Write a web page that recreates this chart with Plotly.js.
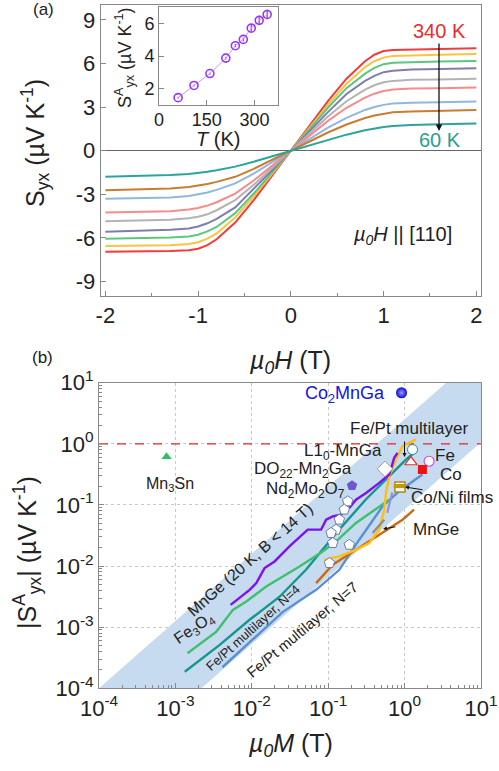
<!DOCTYPE html>
<html><head><meta charset="utf-8">
<script src="https://cdn.plot.ly/plotly-3.0.1.min.js"></script>
<style>html,body{margin:0;padding:0;background:#fff}#g{width:499px;height:771px}</style>
</head><body><div id="g"></div>
<script>
// ---------- Panel (a) data ----------
const fieldH = [-2,-1.6,-1.3,-1.1,-1.0,-0.9,-0.8,-0.6,-0.4,-0.2,0,0.2,0.4,0.6,0.8,0.9,1.0,1.1,1.3,1.6,2];
const S340 = [-6.95,-6.93,-6.9,-6.85,-6.75,-6.5,-6.1,-4.95,-3.4,-1.7,0,1.7,3.4,4.95,6.15,6.6,6.85,6.92,6.96,7.0,7.04];
const S305 = [-6.56,-6.54,-6.5,-6.42,-6.3,-6.05,-5.7,-4.6,-3.15,-1.58,0,1.58,3.15,4.6,5.75,6.15,6.4,6.52,6.57,6.6,6.65];
const S270 = [-6.06,-6.03,-5.98,-5.9,-5.78,-5.55,-5.25,-4.3,-2.95,-1.48,0,1.48,2.95,4.3,5.3,5.7,5.95,6.05,6.1,6.13,6.17];
const S240 = [-5.58,-5.5,-5.45,-5.35,-5.22,-5.0,-4.7,-3.9,-2.65,-1.33,0,1.33,2.65,3.9,4.8,5.15,5.4,5.5,5.58,5.62,5.67];
const S210 = [-4.85,-4.8,-4.75,-4.65,-4.55,-4.38,-4.1,-3.4,-2.35,-1.18,0,1.18,2.35,3.4,4.2,4.5,4.7,4.8,4.87,4.9,4.94];
const S180 = [-4.25,-4.22,-4.17,-4.05,-3.95,-3.78,-3.55,-2.95,-2.05,-1.03,0,1.03,2.05,2.95,3.65,3.92,4.1,4.2,4.27,4.3,4.34];
const S140 = [-3.31,-3.28,-3.22,-3.12,-3.02,-2.88,-2.7,-2.25,-1.58,-0.8,0,0.8,1.58,2.25,2.8,3.0,3.15,3.24,3.3,3.33,3.38];
const S100 = [-2.72,-2.66,-2.6,-2.5,-2.42,-2.3,-2.15,-1.8,-1.25,-0.63,0,0.63,1.25,1.8,2.25,2.42,2.55,2.64,2.7,2.74,2.79];
const S60  = [-1.8,-1.74,-1.68,-1.6,-1.54,-1.45,-1.35,-1.1,-0.76,-0.38,0,0.38,0.76,1.1,1.4,1.53,1.63,1.7,1.77,1.81,1.87];
const curveColors = ['#f23b3b','#f7c443','#5cc77e','#7e7eae','#b3b3b3','#f78b8b','#8fb7e2','#c97c32','#2ba59b'];

// inset
const insetT = [60,110,160,210,240,265,290,315,340];
const insetSA = [1.45,2.2,2.93,3.88,4.64,5.03,5.72,6.2,6.56];
const insetErr = [0.05,0.05,0.05,0.08,0.1,0.12,0.22,0.28,0.3];

// ---------- Panel (b) data ----------
const bandX = [1e-4, 3.5, 10, 10, 2.2e-3];
const bandY = [1e-4, 10, 10, 1.06, 1e-4];
const mnge20X = [0.00528,0.00935,0.01146,0.01469,0.01986,0.0311,0.054,0.0807,0.094,0.1146,0.147,0.189,0.231,0.313,0.466,0.63,0.731,0.807];
const mnge20Y = [0.00232,0.00408,0.00526,0.00927,0.01189,0.0209,0.0394,0.0394,0.0574,0.065,0.0693,0.0893,0.122,0.157,0.23,0.315,0.589,0.711];
const fe3o4X = [0.00144,0.00344,0.00566,0.00847,0.01545,0.0421,0.0847,0.1268,0.231,0.381,0.63];
const fe3o4Y = [0.000375,0.000847,0.00192,0.00263,0.00463,0.00984,0.01734,0.0253,0.0507,0.0785,0.122];
const fept4X = [0.001327,0.0038,0.00935,0.0231,0.0515,0.14,0.313,0.63,1.04,1.41];
const fept4Y = [0.000187,0.000513,0.00132,0.00315,0.00879,0.0398,0.124,0.294,0.553,0.757];
const fept7X = [0.00412,0.00935,0.0255,0.0695,0.14,0.255,0.514,0.849,1.71];
const fept7Y = [0.000221,0.000574,0.00178,0.00408,0.00869,0.027,0.0948,0.168,0.314];
const yellowX = [0.0891,0.14,0.231,0.345,0.466,0.542,0.57,0.63,0.769,0.94,1.41];
const yellowY = [0.01268,0.01436,0.01845,0.0238,0.0394,0.0838,0.157,0.294,0.553,0.914,1.18];
const mngeX = [0.0695,0.1146,0.231,0.514,0.94,1.33];
const mngeY = [0.00526,0.0105,0.0185,0.0348,0.0574,0.0838];
const lavX = [0.593,0.689]; const lavY = [0.0748,0.16];
const grayX = [0.381,0.542]; const grayY = [0.0348,0.0574];
const pentX = [0.18,0.1626,0.14,0.1268,0.109,0.1146,0.189,0.1038];
const pentY = [0.1146,0.0838,0.0574,0.0394,0.0348,0.0238,0.0223,0.0112];
const co2mngaX=[0.912], co2mngaY=[6.85];
const mn3snX=[7.66e-4], mn3snY=[0.612];
const ndmoX=[0.205], ndmoY=[0.207];
const do22X=[0.553], do22Y=[0.389];
const l10X=[1.27], l10Y=[0.805];
const feptTriX=[1.21], feptTriY=[0.504];
const feX=[2.09], feY=[0.519];
const coX=[1.71], coY=[0.379];
const coniX=[0.869], coniY=[0.197];

// ---------- build ----------
const W=499, Hh=771;
const px = v => v/W, py = v => 1 - v/Hh;
const FONT = 'Arial, "Liberation Sans", sans-serif';
const traces = [];
const series = [S340,S305,S270,S240,S210,S180,S140,S100,S60];
series.forEach((s,i)=>traces.push({x:fieldH,y:s,type:'scatter',mode:'lines',xaxis:'x',yaxis:'y',
  line:{color:curveColors[i],width:2},hoverinfo:'skip'}));
traces.push({x:insetT,y:insetSA,type:'scatter',mode:'lines+markers',xaxis:'x2',yaxis:'y2',
  line:{color:'#c49cf2',width:1},marker:{symbol:'circle-open',size:8,color:'#9933ff',line:{width:1.6,color:'#9933ff'}},
  error_y:{type:'data',array:insetErr,color:'#9933ff',thickness:1.2,width:0}});

// panel b
traces.push({x:bandX,y:bandY,type:'scatter',mode:'lines',fill:'toself',fillcolor:'#c6dbef',line:{width:0},xaxis:'x3',yaxis:'y3'});
traces.push({x:[1e-4,10],y:[1,1],type:'scatter',mode:'lines',line:{color:'#ee2222',width:1.3,dash:'dash'},xaxis:'x3',yaxis:'y3'});
const L = (x,y,c,w)=>traces.push({x:x,y:y,type:'scatter',mode:'lines',line:{color:c,width:w||2.4},xaxis:'x3',yaxis:'y3'});
L(fept7X,fept7Y,'#5b8fd3');
L(fept4X,fept4Y,'#16968c');
L(fe3o4X,fe3o4Y,'#3fbf70');
L(mngeX,mngeY,'#cc6a14');
L(yellowX,yellowY,'#ffbf10');
L(mnge20X,mnge20Y,'#7f10f0');
L(lavX,lavY,'#9b8fd6',2.2);
L(grayX,grayY,'#8c8c8c',2.2);
const M = (x,y,m)=>traces.push({x:x,y:y,type:'scatter',mode:'markers',marker:m,xaxis:'x3',yaxis:'y3'});
M(pentX,pentY,{symbol:'pentagon',size:11,color:'#ffffff',line:{color:'#6a7fa8',width:1}});
M(co2mngaX,co2mngaY,{symbol:'circle',size:11,color:'#0a0ad8',gradient:{type:'radial',color:'#9a9aff'},line:{width:0}});
M(mn3snX,mn3snY,{symbol:'triangle-up',size:9,color:'#2fbf6a',line:{width:0}});
M(ndmoX,ndmoY,{symbol:'pentagon',size:11,color:'#6a5acd',line:{width:0}});
M(do22X,do22Y,{symbol:'diamond',size:12,color:'#ffffff',line:{color:'#999',width:1}});
M(l10X,l10Y,{symbol:'circle',size:10,color:'#ffffff',line:{color:'#16968c',width:1}});
M(feptTriX,feptTriY,{symbol:'triangle-up',size:11,color:'#ffffff',line:{color:'#e03030',width:1.2}});
M(feX,feY,{symbol:'circle',size:10,color:'#ffffff',line:{color:'#dd44dd',width:1.2}});
M(coX,coY,{symbol:'square',size:9,color:'#ee1111',line:{width:0}});
M(coniX,coniY,{symbol:'square',size:10,color:'#ffffff',line:{color:'#b8860b',width:1.5}});
M(coniX,coniY.map(v=>v*1.04),{symbol:'line-ew',size:9,line:{color:'#c8960b',width:4}});

// minor ticks for log axis
const minorV=[];
for(let e=-4;e<1;e++) for(let k=2;k<10;k++) minorV.push(k*Math.pow(10,e));
const decV=[1e-4,1e-3,1e-2,1e-1,1,10];
const decT=['10<sup>-4</sup>','10<sup>-3</sup>','10<sup>-2</sup>','10<sup>-1</sup>','10<sup>0</sup>','10<sup>1</sup>'];

const ax = (o)=>Object.assign({showline:true,linecolor:'#888',linewidth:1,mirror:true,ticks:'inside',ticklen:5,tickcolor:'#888',
  showgrid:false,zeroline:false,tickfont:{family:FONT,size:22,color:'#222'}},o);

const layout = {
  width:W,height:Hh,margin:{l:0,r:0,t:0,b:0},showlegend:false,paper_bgcolor:'#fff',plot_bgcolor:'rgba(0,0,0,0)',
  font:{family:FONT,color:'#222'},
  xaxis:ax({domain:[px(100.7),px(481)],anchor:'y',range:[-2.05,2.05],tickvals:[-2,-1,0,1,2],ticktext:['-2','-1','0','1','2'],
    minor:{tickvals:[-1.5,-0.5,0.5,1.5],ticks:'inside',ticklen:3,tickcolor:'#888'}}),
  yaxis:ax({domain:[py(296),py(5.3)],anchor:'x',range:[-10,10],tickvals:[-9,-6,-3,0,3,6,9],ticktext:['-9','-6','-3','0','3','6','9'],
    zeroline:true,zerolinecolor:'#666',zerolinewidth:1}),
  xaxis2:ax({domain:[px(159),px(278.3)],anchor:'y2',range:[0,375],tickvals:[0,150,300],ticklabelstandoff:-2,tickfont:{family:FONT,size:18,color:'#222'}}),
  yaxis2:ax({domain:[py(105),py(7.3)],anchor:'x2',range:[1,7],tickvals:[2,4,6],tickfont:{family:FONT,size:18,color:'#222'}}),
  xaxis3:ax({domain:[px(99),px(481)],anchor:'y3',type:'log',range:[-4,1],tickmode:'array',tickvals:decV,ticktext:decT,
    showgrid:true,gridcolor:'#c8c8c8',griddash:'dot',gridwidth:1,
    minor:{tickmode:'array',tickvals:minorV,ticks:'inside',ticklen:3,tickcolor:'#888',showgrid:false}}),
  yaxis3:ax({domain:[py(688.3),py(382.7)],anchor:'x3',type:'log',range:[-4,1],tickmode:'array',tickvals:decV,ticktext:decT,
    showgrid:true,gridcolor:'#c8c8c8',griddash:'dot',gridwidth:1,
    minor:{tickmode:'array',tickvals:minorV,ticks:'inside',ticklen:3,tickcolor:'#888',showgrid:false}}),
  annotations:[]
};
const A = (x,y,text,o)=>layout.annotations.push(Object.assign({x:px(x),y:py(y),xref:'paper',yref:'paper',text:text,showarrow:false,
  font:{family:FONT,size:17,color:'#222'},xanchor:'center',yanchor:'middle'},o||{}));
const ARR = (x1,y1,x2,y2,o)=>layout.annotations.push(Object.assign({x:px(x2),y:py(y2),xref:'paper',yref:'paper',text:'',showarrow:true,
  ax:x1-x2,ay:y1-y2,arrowhead:2,arrowsize:1,arrowwidth:1.3,arrowcolor:'#111'},o||{}));

// panel a labels
A(43,10,'(a)',{font:{family:FONT,size:17,color:'#222'}});
A(35,143,'S<sub>yx</sub> (µV K<sup>-1</sup>)',{textangle:-90,font:{family:FONT,size:25,color:'#222'}});
A(290,362,'<i>µ<sub>0</sub>H</i> (T)',{font:{family:FONT,size:25,color:'#222'}});
A(439,31,'340 K',{font:{family:FONT,size:20,color:'#ee2a2a'}});
A(440,140,'60 K',{font:{family:FONT,size:20,color:'#2a9d95'}});
ARR(439,42,439,131);
A(402,235,'<i>µ<sub>0</sub>H</i> || [110]',{font:{family:FONT,size:20,color:'#222'}});
A(125,57,'S<sup>A</sup><sub>yx</sub> (µV K<sup>-1</sup>)',{textangle:-90,font:{family:FONT,size:18,color:'#222'}});
A(218,139,'<i>T</i> (K)',{font:{family:FONT,size:20,color:'#222'}});

// panel b labels
A(42,357,'(b)',{font:{family:FONT,size:17,color:'#222'}});
A(27,553,'|S<sup>A</sup><sub>yx</sub>| (µV K<sup>-1</sup>)',{textangle:-90,font:{family:FONT,size:25,color:'#222'}});
A(290,745,'<i>µ<sub>0</sub>M</i> (T)',{font:{family:FONT,size:25,color:'#222'}});
A(345,395,'Co<sub>2</sub>MnGa',{font:{family:FONT,size:18,color:'#1515e0'}});
A(170,484,'Mn<sub>3</sub>Sn',{font:{family:FONT,size:16,color:'#222'}});
A(409,428,'Fe/Pt multilayer');
A(343,452,'L1<sub>0</sub>-MnGa');
A(303,470,'DO<sub>22</sub>-Mn<sub>2</sub>Ga');
A(305,490,'Nd<sub>2</sub>Mo<sub>2</sub>O<sub>7</sub>');
A(433,455,'Fe',{xanchor:'left'});
A(438,474,'Co',{xanchor:'left'});
A(452,497,'Co/Ni films');
A(436,529,'MnGe');
ARR(404.5,440,404.5,457,{arrowhead:2,arrowsize:0.8,arrowwidth:1});
ARR(424,490,405,487,{arrowhead:2,arrowsize:0.8,arrowwidth:1});
ARR(397,526.5,383,529,{arrowhead:2,arrowsize:0.8,arrowwidth:1});
A(250,559,'MnGe (20 K, B &lt; 14 T)',{textangle:-41.6,font:{family:FONT,size:16,color:'#222'}});
A(194,628,'Fe<sub>3</sub>O<sub>4</sub>',{textangle:-34,font:{family:FONT,size:16,color:'#222'}});
A(253,627,'Fe/Pt multilayer, N=4',{textangle:-42,font:{family:FONT,size:13,color:'#222'}});
A(302,629,'Fe/Pt multilayer, N=7',{textangle:-40,font:{family:FONT,size:15,color:'#222'}});

Plotly.newPlot('g',traces,layout,{staticPlot:true,displayModeBar:false});
</script></body></html>
